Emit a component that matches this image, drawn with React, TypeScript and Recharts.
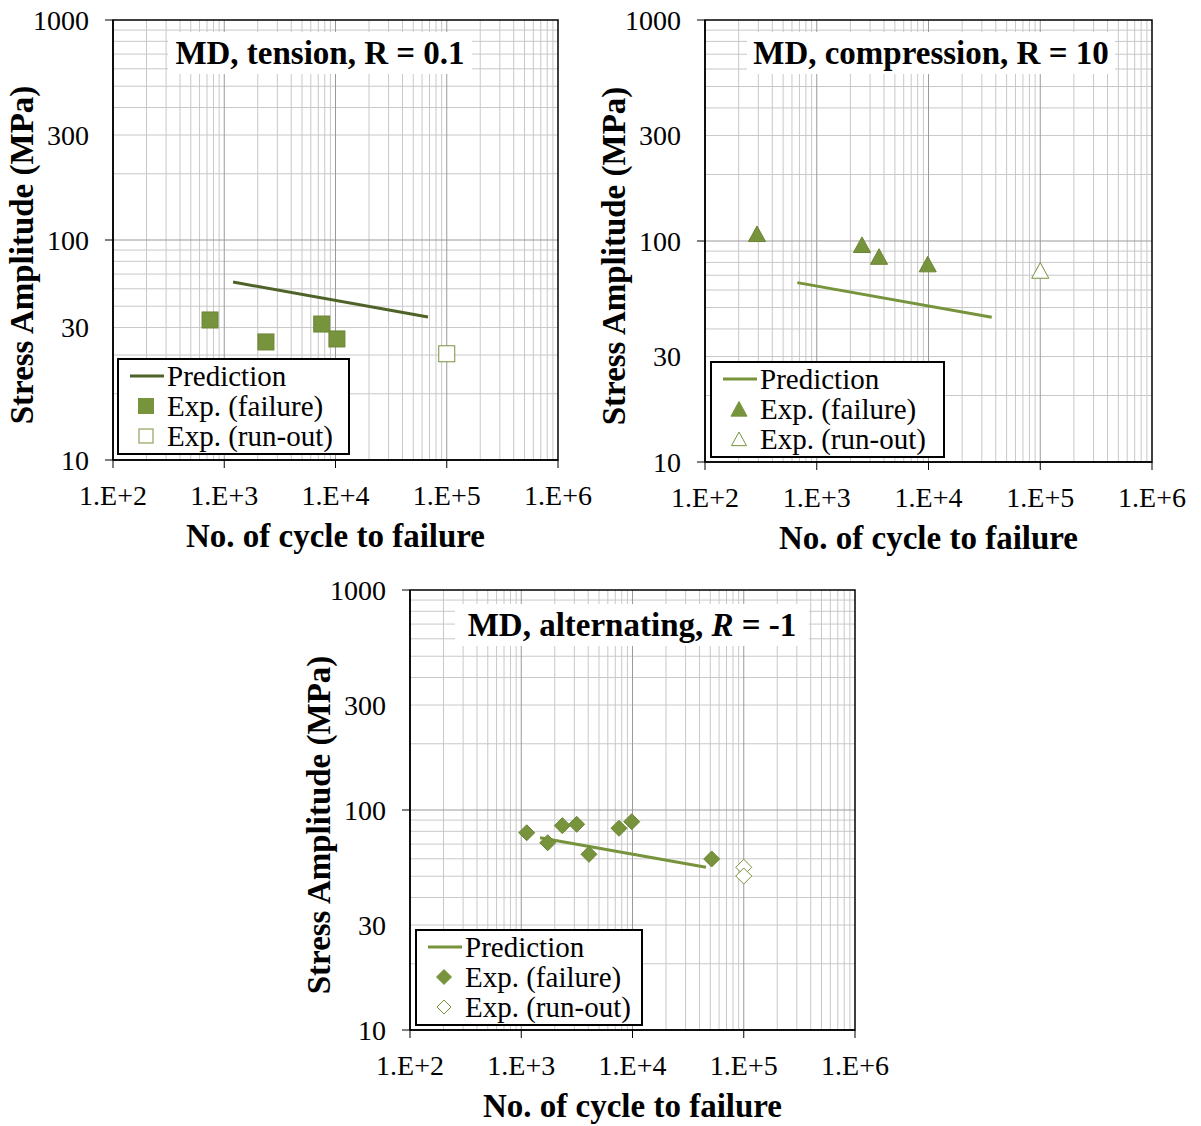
import React from "react";
import {
  ComposedChart,
  Line,
  Scatter,
  XAxis,
  YAxis,
  CartesianGrid,
  ReferenceArea,
  Legend,
} from "recharts";

const OLIVE = "#77933C";
const OLIVE_DARK = "#4F6228";
const FONT = '"Liberation Serif", "Times New Roman", serif';

// n = cycles to failure, s = stress amplitude (MPa)
const tensionPrediction = [
  { n: 1200, s: 64.4 },
  { n: 67800, s: 44.7 },
];
const tensionFailure = [
  { n: 745, s: 43.3 },
  { n: 2370, s: 34.4 },
  { n: 7520, s: 41.5 },
  { n: 10300, s: 35.5 },
];
const tensionRunOut = [{ n: 100000, s: 30.4 }];

const compressionPrediction = [
  { n: 670, s: 64.8 },
  { n: 36800, s: 45.2 },
];
const compressionFailure = [
  { n: 292, s: 107.6 },
  { n: 2540, s: 96 },
  { n: 3610, s: 84.9 },
  { n: 9840, s: 78.5 },
];
const compressionRunOut = [{ n: 100000, s: 73.4 }];

const alternatingPrediction = [
  { n: 1475, s: 74.8 },
  { n: 45800, s: 54.9 },
];
const alternatingFailure = [
  { n: 1120, s: 78.8 },
  { n: 1730, s: 71.0 },
  { n: 2340, s: 84.9 },
  { n: 3150, s: 86.1 },
  { n: 4060, s: 62.9 },
  { n: 7560, s: 82.6 },
  { n: 9840, s: 88.5 },
  { n: 51500, s: 59.9 },
];
const alternatingRunOut = [
  { n: 100000, s: 54.9 },
  { n: 100000, s: 50.1 },
];

const seriesNames = ["Prediction", "Exp. (failure)", "Exp. (run-out)"];

const xTicks = [100, 1000, 10000, 100000, 1000000];
const xTickLabels = ["1.E+2", "1.E+3", "1.E+4", "1.E+5", "1.E+6"];
const yTickLabels = ["10", "30", "100", "300", "1000"];
const yTicks = [10, 30, 100, 300, 1000];
// the tension panel prints its "30" label on the 40 MPa gridline
const yTicksTension = [10, 40, 100, 300, 1000];

const multipliers = [2, 3, 4, 5, 6, 7, 8, 9];
const xMajor = [1000, 10000, 100000];
const xMinor = [100, 1000, 10000, 100000].flatMap((d) => multipliers.map((m) => m * d));
const yMajor = [100];
const yMinor = [10, 100].flatMap((d) => multipliers.map((m) => m * d));

const AXIS_X = 113;

type Kind = "square" | "triangle" | "diamond";

const marker = (kind: Kind, cx: number, cy: number, r: number, fill: string, stroke: string, sw: number) => {
  if (kind === "square") {
    return <rect x={cx - r} y={cy - r} width={2 * r} height={2 * r} fill={fill} stroke={stroke} strokeWidth={sw} />;
  }
  if (kind === "triangle") {
    const pts = `${cx},${cy - r} ${cx + r * 1.07},${cy + r * 0.95} ${cx - r * 1.07},${cy + r * 0.95}`;
    return <polygon points={pts} fill={fill} stroke={stroke} strokeWidth={sw} />;
  }
  const pts = `${cx},${cy - r} ${cx + r},${cy} ${cx},${cy + r} ${cx - r},${cy}`;
  return <polygon points={pts} fill={fill} stroke={stroke} strokeWidth={sw} />;
};

const isDecade = (v: number) => Math.abs(Math.log10(v) - Math.round(Math.log10(v))) < 1e-9;

const YTick = (props: any) => {
  const { y, payload, index } = props;
  return (
    <g>
      {isDecade(payload.value) && (
        <line x1={AXIS_X - 8} x2={AXIS_X} y1={y} y2={y} stroke="#000" strokeWidth={1} />
      )}
      <text
        x={AXIS_X - 24}
        y={y}
        textAnchor="end"
        dominantBaseline="central"
        fontFamily={FONT}
        fontSize={28}
        fill="#000"
      >
        {yTickLabels[index]}
      </text>
    </g>
  );
};

// y-axis title sits a little below the middle of the plot, as in the source figure
const YTitle = (props: any) => {
  const vb = props.viewBox || {};
  const cx = 22;
  const cy = (vb.y || 0) + (vb.height || 0) / 2 + 15;
  return (
    <text
      x={cx}
      y={cy}
      transform={`rotate(-90, ${cx}, ${cy})`}
      textAnchor="middle"
      dominantBaseline="central"
      fontFamily={FONT}
      fontSize={33}
      fontWeight="bold"
      fill="#000"
    >
      Stress Amplitude (MPa)
    </text>
  );
};

type PanelProps = {
  left: number;
  top: number;
  height: number;
  rightMargin: number;
  xAxisHeight: number;
  title: React.ReactNode;
  titleBox: { left: number; top: number; width: number };
  legendBox: { left: number; top: number; width: number };
  ticks: number[];
  prediction: { n: number; s: number }[];
  failure: { n: number; s: number }[];
  runOut: { n: number; s: number }[];
  lineColor: string;
  kind: Kind;
};

const Panel = (p: PanelProps) => {
  const renderLegend = () => (
    <div
      style={{
        border: "2px solid #000",
        background: "#fff",
        width: p.legendBox.width,
        boxSizing: "border-box",
        padding: "1px 0 2px 0",
        fontFamily: FONT,
        fontSize: 29,
        color: "#000",
      }}
    >
      {seriesNames.map((name, i) => (
        <div key={name} style={{ display: "flex", alignItems: "center", height: 30, whiteSpace: "nowrap" }}>
          <svg width={48} height={30} style={{ flex: "none" }}>
            {i === 0 && <line x1={11} x2={45} y1={15} y2={15} stroke={p.lineColor} strokeWidth={3} />}
            {i === 1 && marker(p.kind, 27, 15, 7.5, OLIVE, OLIVE, 1)}
            {i === 2 && marker(p.kind, 27, 15, 7, "#fff", OLIVE, 1)}
          </svg>
          <span style={{ lineHeight: "30px" }}>{name}</span>
        </div>
      ))}
    </div>
  );

  return (
    <div style={{ position: "absolute", left: p.left, top: p.top }}>
      <ComposedChart
        width={600}
        height={p.height}
        margin={{ top: 20, right: p.rightMargin, bottom: 0, left: 0 }}
      >
        <CartesianGrid horizontalValues={yMinor} verticalValues={xMinor} stroke="#C8C8C8" strokeWidth={1} />
        <CartesianGrid horizontalValues={yMajor} verticalValues={xMajor} stroke="#9A9A9A" strokeWidth={1} />
        <XAxis
          dataKey="n"
          type="number"
          scale="log"
          domain={[100, 1000000]}
          allowDataOverflow
          ticks={xTicks}
          interval={0}
          tickFormatter={(v: number, i: number) => xTickLabels[i]}
          tick={{ fill: "#000", fontSize: 28, fontFamily: FONT }}
          tickSize={8}
          tickMargin={17}
          tickLine={{ stroke: "#000" }}
          axisLine={{ stroke: "#000", strokeWidth: 1.5 }}
          height={p.xAxisHeight}
          label={{
            value: "No. of cycle to failure",
            position: "insideTop",
            offset: 64,
            style: { fontFamily: FONT, fontSize: 33, fontWeight: "bold", fill: "#000" },
          }}
        />
        <YAxis
          dataKey="s"
          type="number"
          scale="log"
          domain={[10, 1000]}
          allowDataOverflow
          ticks={p.ticks}
          interval={0}
          width={AXIS_X}
          tick={YTick}
          tickLine={false}
          axisLine={{ stroke: "#000", strokeWidth: 1.5 }}
          label={{ content: YTitle }}
        />
        <ReferenceArea
          x1={100}
          x2={1000000}
          y1={10}
          y2={1000}
          fill="none"
          fillOpacity={0}
          stroke="#000"
          strokeWidth={1.5}
        />
        <Line
          data={p.prediction}
          dataKey="s"
          name={seriesNames[0]}
          type="linear"
          stroke={p.lineColor}
          strokeWidth={3}
          dot={false}
          activeDot={false}
          isAnimationActive={false}
        />
        <Scatter
          data={p.failure}
          name={seriesNames[1]}
          isAnimationActive={false}
          shape={(s: any) => marker(p.kind, s.cx, s.cy, 8, OLIVE, "#6B8535", 1)}
        />
        <Scatter
          data={p.runOut}
          name={seriesNames[2]}
          isAnimationActive={false}
          shape={(s: any) => marker(p.kind, s.cx, s.cy, 8, "#fff", OLIVE, 1)}
        />
        <Legend
          layout="horizontal"
          verticalAlign="middle"
          align="center"
          content={renderLegend}
          wrapperStyle={{ left: p.legendBox.left, top: p.legendBox.top, width: p.legendBox.width, height: "auto" }}
        />
      </ComposedChart>
      <div
        style={{
          position: "absolute",
          left: p.titleBox.left,
          top: p.titleBox.top,
          width: p.titleBox.width,
          height: 42,
          lineHeight: "42px",
          background: "#fff",
          textAlign: "center",
          fontFamily: FONT,
          fontSize: 33,
          fontWeight: "bold",
          color: "#000",
          whiteSpace: "nowrap",
        }}
      >
        {p.title}
      </div>
    </div>
  );
};

export default function App() {
  return (
    <div style={{ position: "absolute", left: 0, top: 0, width: 1201, height: 1126, background: "#fff" }}>
      <Panel
        left={0}
        top={0}
        height={560}
        rightMargin={42}
        xAxisHeight={100}
        title="MD, tension, R = 0.1"
        titleBox={{ left: 168, top: 32, width: 304 }}
        legendBox={{ left: 117, top: 358, width: 233 }}
        ticks={yTicksTension}
        prediction={tensionPrediction}
        failure={tensionFailure}
        runOut={tensionRunOut}
        lineColor={OLIVE_DARK}
        kind="square"
      />
      <Panel
        left={592}
        top={0}
        height={560}
        rightMargin={40}
        xAxisHeight={98}
        title="MD, compression, R = 10"
        titleBox={{ left: 155, top: 32, width: 368 }}
        legendBox={{ left: 118, top: 361, width: 235 }}
        ticks={yTicks}
        prediction={compressionPrediction}
        failure={compressionFailure}
        runOut={compressionRunOut}
        lineColor={OLIVE}
        kind="triangle"
      />
      <Panel
        left={297}
        top={570}
        height={556}
        rightMargin={42}
        xAxisHeight={96}
        title={
          <>
            MD, alternating, <i>R</i> = -1
          </>
        }
        titleBox={{ left: 158, top: 34, width: 354 }}
        legendBox={{ left: 118, top: 359, width: 228 }}
        ticks={yTicks}
        prediction={alternatingPrediction}
        failure={alternatingFailure}
        runOut={alternatingRunOut}
        lineColor={OLIVE}
        kind="diamond"
      />
    </div>
  );
}
